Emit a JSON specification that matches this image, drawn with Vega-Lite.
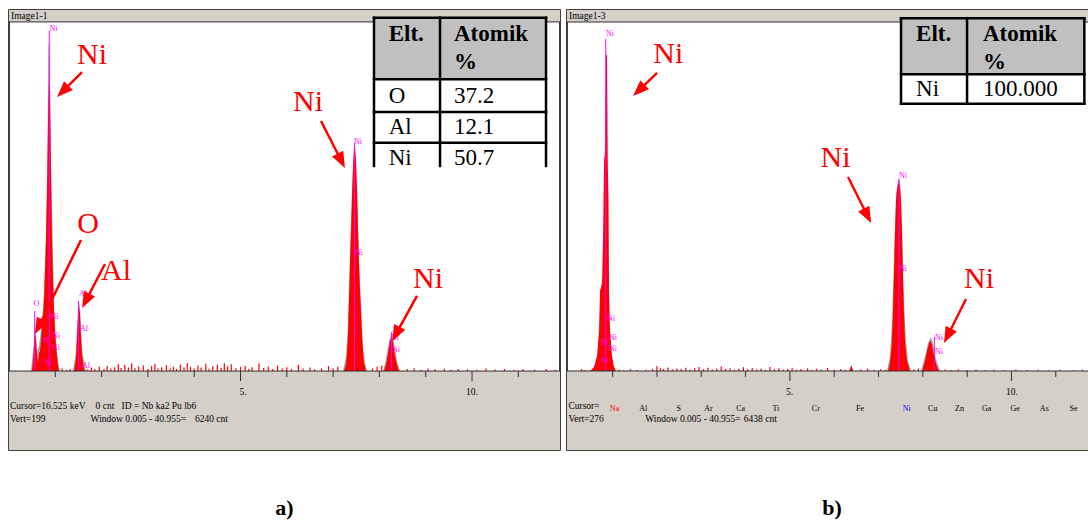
{
"$schema": "https://vega.github.io/schema/vega-lite/v6.json",
"padding": {"left": 7, "top": 9, "right": 0, "bottom": 0},
"background": "white",
"spacing": 3,
"config": {"view": {"stroke": "black", "strokeWidth": 1.5}, "text": {"font": "Liberation Serif"}, "title": {"font": "Liberation Serif"}},
"datasets": {
"a_bg": [{"e":0,"c":-45,"e2":11.9,"c2":0},{"e":0,"c":199,"e2":11.9,"c2":205.8}],
"a_dark": [{"e":0,"c":0,"e2":11.9,"c2":0},{"e":0,"c":199,"e2":11.9,"c2":199},
 {"e":1,"c":0,"e2":1,"c2":-3.4},{"e":2,"c":0,"e2":2,"c2":-3.4},{"e":3,"c":0,"e2":3,"c2":-3.4},{"e":4,"c":0,"e2":4,"c2":-3.4},{"e":5,"c":0,"e2":5,"c2":-5.7},{"e":6,"c":0,"e2":6,"c2":-3.4},{"e":7,"c":0,"e2":7,"c2":-3.4},{"e":8,"c":0,"e2":8,"c2":-3.4},{"e":9,"c":0,"e2":9,"c2":-3.4},{"e":10,"c":0,"e2":10,"c2":-5.7},{"e":11,"c":0,"e2":11,"c2":-3.4}],
"a_spec": [
 {"s":"spec","e":0,"c":0},{"s":"spec","e":0.497,"c":0},{"s":"spec","e":0.518,"c":5.7},{"s":"spec","e":0.540,"c":14.3},{"s":"spec","e":0.562,"c":21.1},{"s":"spec","e":0.583,"c":18.2},{"s":"spec","e":0.605,"c":8.6},{"s":"spec","e":0.626,"c":4.6},{"s":"spec","e":0.648,"c":10.3},{"s":"spec","e":0.670,"c":11.4},{"s":"spec","e":0.691,"c":17.1},{"s":"spec","e":0.713,"c":25.6},{"s":"spec","e":0.734,"c":31.4},{"s":"spec","e":0.756,"c":39.9},{"s":"spec","e":0.778,"c":57.0},{"s":"spec","e":0.799,"c":74.1},{"s":"spec","e":0.821,"c":102.6},{"s":"spec","e":0.842,"c":142.5},{"s":"spec","e":0.864,"c":166.4},{"s":"spec","e":0.886,"c":156.8},{"s":"spec","e":0.907,"c":114.0},{"s":"spec","e":0.929,"c":74.1},{"s":"spec","e":0.950,"c":51.3},{"s":"spec","e":0.972,"c":34.2},{"s":"spec","e":0.994,"c":22.8},{"s":"spec","e":1.015,"c":14.3},{"s":"spec","e":1.037,"c":8.6},{"s":"spec","e":1.058,"c":2.9},{"s":"spec","e":1.080,"c":0},
 {"s":"spec","e":1.404,"c":0},{"s":"spec","e":1.447,"c":6.8},{"s":"spec","e":1.469,"c":20.0},{"s":"spec","e":1.490,"c":31.4},{"s":"spec","e":1.512,"c":37.1},{"s":"spec","e":1.533,"c":33.1},{"s":"spec","e":1.555,"c":20.0},{"s":"spec","e":1.577,"c":8.6},{"s":"spec","e":1.620,"c":1.1},{"s":"spec","e":1.641,"c":0},
 {"s":"spec","e":7.235,"c":0},{"s":"spec","e":7.279,"c":4.0},{"s":"spec","e":7.300,"c":10.3},{"s":"spec","e":7.322,"c":20.0},{"s":"spec","e":7.343,"c":39.9},{"s":"spec","e":7.365,"c":61.6},{"s":"spec","e":7.387,"c":79.8},{"s":"spec","e":7.408,"c":99.8},{"s":"spec","e":7.430,"c":116.9},{"s":"spec","e":7.451,"c":126.5},{"s":"spec","e":7.473,"c":128.3},{"s":"spec","e":7.495,"c":119.7},{"s":"spec","e":7.516,"c":102.6},{"s":"spec","e":7.538,"c":79.8},{"s":"spec","e":7.559,"c":59.9},{"s":"spec","e":7.581,"c":45.6},{"s":"spec","e":7.603,"c":34.2},{"s":"spec","e":7.624,"c":20.0},{"s":"spec","e":7.646,"c":11.4},{"s":"spec","e":7.667,"c":4.6},{"s":"spec","e":7.711,"c":0},
 {"s":"spec","e":8.099,"c":0},{"s":"spec","e":8.143,"c":3.4},{"s":"spec","e":8.186,"c":10.3},{"s":"spec","e":8.229,"c":17.1},{"s":"spec","e":8.261,"c":19.4},{"s":"spec","e":8.294,"c":16.0},{"s":"spec","e":8.337,"c":8.6},{"s":"spec","e":8.380,"c":3.4},{"s":"spec","e":8.423,"c":0},{"s":"spec","e":11.9,"c":0},
 {"s":"env","e":0,"c":0},{"s":"env","e":0.475,"c":0},{"s":"env","e":0.540,"c":17.1},{"s":"env","e":0.562,"c":25.1},{"s":"env","e":0.605,"c":11.4},{"s":"env","e":0.648,"c":14.3},{"s":"env","e":0.713,"c":28.5},{"s":"env","e":0.756,"c":45.6},{"s":"env","e":0.799,"c":79.8},{"s":"env","e":0.832,"c":125.4},{"s":"env","e":0.853,"c":188.1},{"s":"env","e":0.886,"c":176.7},{"s":"env","e":0.907,"c":119.7},{"s":"env","e":0.940,"c":79.8},{"s":"env","e":0.972,"c":39.9},{"s":"env","e":1.015,"c":17.1},{"s":"env","e":1.058,"c":5.7},{"s":"env","e":1.102,"c":0},
 {"s":"env","e":1.382,"c":0},{"s":"env","e":1.447,"c":11.4},{"s":"env","e":1.490,"c":34.2},{"s":"env","e":1.512,"c":39.9},{"s":"env","e":1.533,"c":35.3},{"s":"env","e":1.577,"c":12.5},{"s":"env","e":1.663,"c":0},
 {"s":"env","e":7.214,"c":0},{"s":"env","e":7.279,"c":8.6},{"s":"env","e":7.322,"c":28.5},{"s":"env","e":7.365,"c":68.4},{"s":"env","e":7.408,"c":102.6},{"s":"env","e":7.462,"c":132.2},{"s":"env","e":7.516,"c":105.5},{"s":"env","e":7.559,"c":65.6},{"s":"env","e":7.603,"c":37.1},{"s":"env","e":7.646,"c":14.3},{"s":"env","e":7.689,"c":4.6},{"s":"env","e":7.732,"c":0},
 {"s":"env","e":8.078,"c":0},{"s":"env","e":8.143,"c":6.8},{"s":"env","e":8.207,"c":17.1},{"s":"env","e":8.261,"c":21.1},{"s":"env","e":8.315,"c":16.0},{"s":"env","e":8.380,"c":5.7},{"s":"env","e":8.445,"c":0},{"s":"env","e":11.9,"c":0}],
"a_noise": [{"e":1.15,"c":1.5},{"e":1.25,"c":0.8},{"e":1.32,"c":1.2},{"e":1.7,"c":1.0},{"e":1.78,"c":2.0},{"e":1.85,"c":1.1},{"e":1.95,"c":2.5},{"e":2.05,"c":1.2},{"e":2.12,"c":3.0},{"e":2.2,"c":1.5},{"e":2.28,"c":2.2},{"e":2.36,"c":4.0},{"e":2.42,"c":1.8},{"e":2.5,"c":3.5},{"e":2.58,"c":2.0},{"e":2.65,"c":4.5},{"e":2.72,"c":1.6},{"e":2.8,"c":2.6},{"e":2.9,"c":3.1},{"e":3.0,"c":1.2},{"e":3.08,"c":2.8},{"e":3.15,"c":4.0},{"e":3.22,"c":1.5},{"e":3.3,"c":2.2},{"e":3.4,"c":3.4},{"e":3.48,"c":1.4},{"e":3.55,"c":2.5},{"e":3.62,"c":1.1},{"e":3.7,"c":3.8},{"e":3.78,"c":2.0},{"e":3.85,"c":4.6},{"e":3.92,"c":2.4},{"e":4.0,"c":1.5},{"e":4.08,"c":3.2},{"e":4.15,"c":2.0},{"e":4.25,"c":4.2},{"e":4.32,"c":1.3},{"e":4.4,"c":2.8},{"e":4.5,"c":3.6},{"e":4.58,"c":1.8},{"e":4.65,"c":4.4},{"e":4.72,"c":2.6},{"e":4.8,"c":3.9},{"e":4.9,"c":1.6},{"e":5.0,"c":2.4},{"e":5.1,"c":3.0},{"e":5.18,"c":1.2},{"e":5.25,"c":2.2},{"e":5.4,"c":4.5},{"e":5.5,"c":1.8},{"e":5.6,"c":2.6},{"e":5.7,"c":1.2},{"e":5.8,"c":3.2},{"e":5.9,"c":1.5},{"e":6.0,"c":2.2},{"e":6.1,"c":1.1},{"e":6.25,"c":3.6},{"e":6.35,"c":1.5},{"e":6.5,"c":2.0},{"e":6.6,"c":1.0},{"e":6.75,"c":1.5},{"e":6.9,"c":2.8},{"e":7.0,"c":1.6},{"e":7.1,"c":2.4},{"e":7.85,"c":1.5},{"e":7.95,"c":2.5},{"e":8.05,"c":3.2},{"e":8.6,"c":1.2},{"e":8.75,"c":1.6},{"e":8.9,"c":0.8},{"e":9.05,"c":1.5},{"e":9.2,"c":1.0},{"e":9.4,"c":1.4},{"e":9.55,"c":0.8},{"e":9.7,"c":1.2},{"e":9.9,"c":1.0},{"e":10.1,"c":0.8},{"e":10.3,"c":1.5},{"e":10.5,"c":0.9},{"e":10.7,"c":1.2},{"e":10.9,"c":0.7},{"e":11.1,"c":1.1},{"e":11.35,"c":0.8},{"e":11.6,"c":1.2},{"e":11.8,"c":0.7}],
"a_mark": [{"e":0.869,"c":193.9},{"e":0.555,"c":34.2},{"e":1.50,"c":39.9},{"e":7.46,"c":130},{"e":8.26,"c":22.2}],
"a_mlab": [{"t":"Ni","e":0.875,"c":195.0},{"t":"O","e":0.529,"c":38.2},{"t":"Ni","e":0.896,"c":30.8},{"t":"Ni","e":0.929,"c":20.0},{"t":"Ni","e":0.929,"c":13.1},{"t":"Ni","e":0.734,"c":17.1},{"t":"Ni","e":0.756,"c":4.6},{"t":"Al","e":1.512,"c":43.9},{"t":"Al","e":1.533,"c":23.9},{"t":"Al","e":1.577,"c":2.9},{"t":"Ni","e":7.451,"c":130.5},{"t":"Ni","e":7.473,"c":67.3},{"t":"Ni","e":8.251,"c":18.8},{"t":"Ni","e":8.272,"c":12.0}],
"a_status": [{"t":"Image1-1","e":0.043,"c":202.4},{"t":"5.","e":4.978,"c":-12.0},{"t":"10.","e":9.87,"c":-12.0},{"t":"Cursor=16.525 keV","e":0.022,"c":-20.0},{"t":"0 cnt","e":1.870,"c":-20.0},{"t":"ID = Nb ka2  Pu lb6","e":2.432,"c":-20.0},{"t":"Vert=199","e":0.022,"c":-27.4},{"t":"Window 0.005 - 40.955=","e":1.762,"c":-27.4},{"t":"6240 cnt","e":4.017,"c":-27.4}],
"a_tfill": [{"f":"h","e":7.883,"c":166.3,"e2":11.598,"c2":201.4},{"f":"b","e":7.883,"c":116.9,"e2":11.598,"c2":166.3}],
"a_tline": [{"e":7.883,"c":201.4,"e2":7.883,"c2":116.9},{"e":9.309,"c":201.4,"e2":9.309,"c2":116.9},{"e":11.598,"c":201.4,"e2":11.598,"c2":116.9},{"e":7.883,"c":201.4,"e2":11.598,"c2":201.4},{"e":7.883,"c":166.3,"e2":11.598,"c2":166.3},{"e":7.883,"c":147.6,"e2":11.598,"c2":147.6},{"e":7.883,"c":130.1,"e2":11.598,"c2":130.1}],
"a_thead": [{"t":"Elt.","e":8.201,"c":188.1},{"t":"Atomik","e":9.611,"c":188.1},{"t":"%","e":9.611,"c":172.1}],
"a_tbody": [{"t":"O","e":8.201,"c":152.8},{"t":"37.2","e":9.611,"c":152.8},{"t":"Al","e":8.201,"c":135.1},{"t":"12.1","e":9.611,"c":135.1},{"t":"Ni","e":8.201,"c":117.4},{"t":"50.7","e":9.611,"c":117.4}],
"a_red": [{"t":"Ni","e":1.793,"c":175.0},{"t":"O","e":1.706,"c":78.7},{"t":"Al","e":2.311,"c":51.9},{"t":"Ni","e":6.458,"c":148.2},{"t":"Ni","e":9.050,"c":47.3}],
"a_arrow": [{"id":"1","e":1.577,"c":170.4,"e2":1.175,"c2":159.8},{"id":"2","e":1.555,"c":74.7,"e2":0.648,"c2":25.7},{"id":"3","e":2.073,"c":61.0,"e2":1.667,"c2":40.5},{"id":"4","e":6.739,"c":142.5,"e2":7.168,"c2":120.3},{"id":"5","e":8.812,"c":42.8,"e2":8.367,"c2":21.6}],
"b_bg": [{"e":-0.03,"c":-62.5,"e2":11.75,"c2":0},{"e":-0.03,"c":276,"e2":11.75,"c2":285.5}],
"b_dark": [{"e":-0.03,"c":0,"e2":11.75,"c2":0},{"e":-0.03,"c":276,"e2":11.75,"c2":276},
 {"e":1,"c":0,"e2":1,"c2":-4.7},{"e":2,"c":0,"e2":2,"c2":-4.7},{"e":3,"c":0,"e2":3,"c2":-4.7},{"e":4,"c":0,"e2":4,"c2":-4.7},{"e":5,"c":0,"e2":5,"c2":-7.9},{"e":6,"c":0,"e2":6,"c2":-4.7},{"e":7,"c":0,"e2":7,"c2":-4.7},{"e":8,"c":0,"e2":8,"c2":-4.7},{"e":9,"c":0,"e2":9,"c2":-4.7},{"e":10,"c":0,"e2":10,"c2":-7.9},{"e":11,"c":0,"e2":11,"c2":-4.7}],
"b_spec": [
 {"s":"spec","e":-0.03,"c":0},{"s":"spec","e":0.490,"c":0},{"s":"spec","e":0.580,"c":3.2},{"s":"spec","e":0.648,"c":11.9},{"s":"spec","e":0.693,"c":31.6},{"s":"spec","e":0.715,"c":63.3},{"s":"spec","e":0.761,"c":69.6},{"s":"spec","e":0.783,"c":102.8},{"s":"spec","e":0.806,"c":166.1},{"s":"spec","e":0.828,"c":174.0},{"s":"spec","e":0.851,"c":249.9},{"s":"spec","e":0.873,"c":249.9},{"s":"spec","e":0.889,"c":166.1},{"s":"spec","e":0.907,"c":134.5},{"s":"spec","e":0.919,"c":63.3},{"s":"spec","e":0.941,"c":31.6},{"s":"spec","e":0.986,"c":11.9},{"s":"spec","e":1.031,"c":3.2},{"s":"spec","e":1.077,"c":0},
 {"s":"spec","e":6.339,"c":0},{"s":"spec","e":6.384,"c":4.7},{"s":"spec","e":6.429,"c":0},
 {"s":"spec","e":7.214,"c":0},{"s":"spec","e":7.260,"c":6.3},{"s":"spec","e":7.305,"c":23.7},{"s":"spec","e":7.327,"c":47.5},{"s":"spec","e":7.350,"c":79.1},{"s":"spec","e":7.373,"c":110.7},{"s":"spec","e":7.395,"c":134.5},{"s":"spec","e":7.418,"c":143.9},{"s":"spec","e":7.440,"c":147.9},{"s":"spec","e":7.463,"c":148.7},{"s":"spec","e":7.486,"c":145.5},{"s":"spec","e":7.508,"c":134.5},{"s":"spec","e":7.531,"c":106.8},{"s":"spec","e":7.553,"c":71.2},{"s":"spec","e":7.576,"c":43.5},{"s":"spec","e":7.598,"c":23.7},{"s":"spec","e":7.643,"c":7.9},{"s":"spec","e":7.711,"c":0},
 {"s":"spec","e":7.982,"c":0},{"s":"spec","e":8.050,"c":7.9},{"s":"spec","e":8.095,"c":15.8},{"s":"spec","e":8.140,"c":22.1},{"s":"spec","e":8.174,"c":23.7},{"s":"spec","e":8.208,"c":20.6},{"s":"spec","e":8.253,"c":11.9},{"s":"spec","e":8.321,"c":3.2},{"s":"spec","e":8.366,"c":0},{"s":"spec","e":11.75,"c":0},
 {"s":"env","e":-0.03,"c":0},
 {"s":"env","e":7.191,"c":0},{"s":"env","e":7.260,"c":11.9},{"s":"env","e":7.305,"c":39.5},{"s":"env","e":7.350,"c":91.0},{"s":"env","e":7.395,"c":138.4},{"s":"env","e":7.440,"c":151.8},{"s":"env","e":7.486,"c":150.2},{"s":"env","e":7.531,"c":114.7},{"s":"env","e":7.576,"c":55.4},{"s":"env","e":7.621,"c":23.7},{"s":"env","e":7.666,"c":7.9},{"s":"env","e":7.734,"c":0},
 {"s":"env","e":7.960,"c":0},{"s":"env","e":8.050,"c":11.9},{"s":"env","e":8.118,"c":22.1},{"s":"env","e":8.174,"c":26.9},{"s":"env","e":8.231,"c":22.1},{"s":"env","e":8.298,"c":9.5},{"s":"env","e":8.389,"c":0},{"s":"env","e":11.75,"c":0}],
"b_noise": [{"e":0.3,"c":1.5},{"e":0.38,"c":0.8},{"e":1.15,"c":1.2},{"e":1.25,"c":0.6},{"e":1.4,"c":1.5},{"e":1.55,"c":0.8},{"e":1.75,"c":1.0},{"e":1.9,"c":1.6},{"e":2.0,"c":4.0},{"e":2.08,"c":2.2},{"e":2.15,"c":1.5},{"e":2.25,"c":2.8},{"e":2.35,"c":1.2},{"e":2.45,"c":2.0},{"e":2.55,"c":1.5},{"e":2.65,"c":2.5},{"e":2.75,"c":1.0},{"e":2.85,"c":2.2},{"e":2.95,"c":3.2},{"e":3.05,"c":1.5},{"e":3.15,"c":2.6},{"e":3.25,"c":1.2},{"e":3.35,"c":2.0},{"e":3.45,"c":3.5},{"e":3.55,"c":1.6},{"e":3.65,"c":2.2},{"e":3.75,"c":1.1},{"e":3.85,"c":1.8},{"e":3.95,"c":3.0},{"e":4.05,"c":1.4},{"e":4.15,"c":2.4},{"e":4.25,"c":1.2},{"e":4.35,"c":2.0},{"e":4.45,"c":1.0},{"e":4.55,"c":3.2},{"e":4.65,"c":1.4},{"e":4.75,"c":2.2},{"e":4.85,"c":1.2},{"e":4.95,"c":1.8},{"e":5.05,"c":2.6},{"e":5.15,"c":1.0},{"e":5.25,"c":1.6},{"e":5.4,"c":2.2},{"e":5.5,"c":1.0},{"e":5.6,"c":1.8},{"e":5.7,"c":1.2},{"e":5.85,"c":2.4},{"e":6.0,"c":1.0},{"e":6.15,"c":1.6},{"e":6.25,"c":1.0},{"e":6.6,"c":1.2},{"e":6.75,"c":1.8},{"e":6.9,"c":1.0},{"e":7.05,"c":1.4},{"e":7.15,"c":1.0},{"e":7.8,"c":1.2},{"e":7.9,"c":2.0},{"e":8.5,"c":1.2},{"e":8.65,"c":0.8},{"e":8.8,"c":1.4},{"e":9.0,"c":0.8},{"e":9.2,"c":1.2},{"e":9.4,"c":0.7},{"e":9.6,"c":1.0},{"e":9.85,"c":0.8},{"e":10.1,"c":1.2},{"e":10.35,"c":0.7},{"e":10.6,"c":1.0},{"e":10.85,"c":0.6},{"e":11.1,"c":1.0},{"e":11.4,"c":0.7},{"e":11.6,"c":0.9}],
"b_mark": [{"e":0.844,"c":262.6},{"e":7.463,"c":151.9},{"e":8.26,"c":26.9}],
"b_mlab": [{"t":"Ni","e":0.851,"c":266.5},{"t":"Ni","e":0.874,"c":41.1},{"t":"Ni","e":0.918,"c":26.1},{"t":"Ni","e":0.918,"c":17.4},{"t":"Ni","e":0.738,"c":22.1},{"t":"Ni","e":0.738,"c":7.9},{"t":"Ni","e":7.463,"c":154.2},{"t":"Ni","e":7.463,"c":80.7},{"t":"Ni","e":8.275,"c":26.1},{"t":"Ni","e":8.275,"c":15.0}],
"b_kticks": [{"e":0.657},{"e":0.846},{"e":1.052},{"e":1.25},{"e":1.44},{"e":1.71},{"e":1.96},{"e":2.30},{"e":2.64},{"e":2.93},{"e":3.29},{"e":3.67},{"e":4.07},{"e":4.51},{"e":4.94},{"e":5.41},{"e":5.88},{"e":6.38},{"e":6.92},{"e":7.46},{"e":8.04},{"e":8.61},{"e":9.23},{"e":9.86},{"e":10.55},{"e":11.22}],
"b_elem": [{"t":"Na","e":0.937,"c":-30.1},{"t":"Al","e":1.598,"c":-30.1},{"t":"S","e":2.442,"c":-30.1},{"t":"Ar","e":3.065,"c":-30.1},{"t":"Ca","e":3.787,"c":-30.1},{"t":"Ti","e":4.606,"c":-30.1},{"t":"Cr","e":5.495,"c":-30.1},{"t":"Fe","e":6.493,"c":-30.1},{"t":"Ni","e":7.549,"c":-30.1},{"t":"Cu","e":8.118,"c":-30.1},{"t":"Zn","e":8.727,"c":-30.1},{"t":"Ga","e":9.334,"c":-30.1},{"t":"Ge","e":9.980,"c":-30.1},{"t":"As","e":10.641,"c":-30.1},{"t":"Se","e":11.309,"c":-30.1}],
"b_status": [{"t":"Image1-3","e":0.016,"c":280.8},{"t":"5.","e":4.913,"c":-16.6},{"t":"10.","e":9.878,"c":-16.6},{"t":"Cursor=","e":0.002,"c":-27.7},{"t":"Vert=276","e":0.002,"c":-38.0},{"t":"Window 0.005 - 40.955=","e":1.735,"c":-38.0},{"t":"6438 cnt","e":3.961,"c":-38.0}],
"b_tfill": [{"f":"h","e":7.508,"c":234.7,"e2":11.645,"c2":279.0},{"f":"b","e":7.508,"c":211.4,"e2":11.645,"c2":234.7}],
"b_tline": [{"e":7.508,"c":279.0,"e2":7.508,"c2":211.4},{"e":8.998,"c":279.0,"e2":8.998,"c2":211.4},{"e":11.645,"c":279.0,"e2":11.645,"c2":211.4},{"e":7.508,"c":279.0,"e2":11.645,"c2":279.0},{"e":7.508,"c":234.7,"e2":11.645,"c2":234.7},{"e":7.508,"c":211.4,"e2":11.645,"c2":211.4}],
"b_thead": [{"t":"Elt.","e":7.847,"c":261.0},{"t":"Atomik","e":9.358,"c":261.0},{"t":"%","e":9.358,"c":238.9}],
"b_tbody": [{"t":"Ni","e":7.847,"c":217.5},{"t":"100.000","e":9.358,"c":217.5}],
"b_red": [{"t":"Ni","e":2.257,"c":243.6},{"t":"Ni","e":6.032,"c":161.3},{"t":"Ni","e":9.269,"c":65.6}],
"b_arrow": [{"id":"1","e":2.002,"c":235.7,"e2":1.607,"c2":222.4},{"id":"2","e":6.312,"c":153.4,"e2":6.741,"c2":123.4},{"id":"3","e":8.975,"c":56.9,"e2":8.569,"c2":28.5}]
},
"hconcat": [
{
 "width": 551, "height": 440,
 "title": {"text": "a)", "orient": "bottom", "font": "Liberation Serif", "fontSize": 22, "fontWeight": "bold", "baseline": "alphabetic", "offset": 65, "anchor": "middle", "color": "black"},
 "encoding": {
  "x": {"field": "e", "type": "quantitative", "scale": {"domain": [0, 11.9], "nice": false, "zero": false}, "axis": null},
  "y": {"field": "c", "type": "quantitative", "scale": {"domain": [-45, 205.8], "nice": false, "zero": false}, "axis": null}
 },
 "layer": [
  {"data": {"name": "a_bg"}, "mark": {"type": "rect", "fill": "#d4d0c8"}, "encoding": {"x2": {"field": "e2"}, "y2": {"field": "c2"}}},
  {"data": {"name": "a_spec"}, "transform": [{"filter": "datum.s === 'env'"}], "mark": {"type": "area", "color": "#a6a6a6", "opacity": 1}, "encoding": {"y": {"field": "c", "type": "quantitative", "stack": null, "scale": {"domain": [-45, 205.8], "nice": false, "zero": false}, "axis": null}}},
  {"data": {"name": "a_spec"}, "transform": [{"filter": "datum.s === 'spec'"}], "mark": {"type": "area", "color": "#ff0000", "opacity": 1}, "encoding": {"y": {"field": "c", "type": "quantitative", "stack": null, "scale": {"domain": [-45, 205.8], "nice": false, "zero": false}, "axis": null}}},
  {"data": {"name": "a_noise"}, "mark": {"type": "rule", "color": "#ff0000", "strokeWidth": 1.2}, "encoding": {"y2": {"datum": 0}}},
  {"data": {"name": "a_mark"}, "mark": {"type": "rule", "color": "#ff00ff", "strokeWidth": 1}, "encoding": {"y2": {"datum": 0}}},
  {"data": {"name": "a_mlab"}, "mark": {"type": "text", "font": "Liberation Serif", "align": "left", "baseline": "middle", "fontSize": 8, "color": "#ff00ff"}, "encoding": {"text": {"field": "t"}}},
  {"data": {"name": "a_dark"}, "mark": {"type": "rule", "color": "#303030", "strokeWidth": 1}, "encoding": {"x2": {"field": "e2"}, "y2": {"field": "c2"}}},
  {"data": {"name": "a_status"}, "mark": {"type": "text", "font": "Liberation Serif", "align": "left", "baseline": "middle", "fontSize": 9.5, "color": "black"}, "encoding": {"text": {"field": "t"}}},
  {"data": {"name": "a_tfill"}, "transform": [{"filter": "datum.f === 'h'"}], "mark": {"type": "rect", "fill": "#c0c0c0"}, "encoding": {"x2": {"field": "e2"}, "y2": {"field": "c2"}}},
  {"data": {"name": "a_tfill"}, "transform": [{"filter": "datum.f === 'b'"}], "mark": {"type": "rect", "fill": "#ffffff"}, "encoding": {"x2": {"field": "e2"}, "y2": {"field": "c2"}}},
  {"data": {"name": "a_tline"}, "mark": {"type": "rule", "color": "black", "strokeWidth": 2.5, "strokeCap": "square"}, "encoding": {"x2": {"field": "e2"}, "y2": {"field": "c2"}}},
  {"data": {"name": "a_thead"}, "mark": {"type": "text", "font": "Liberation Serif", "align": "left", "baseline": "alphabetic", "fontSize": 23, "fontWeight": "bold", "color": "black"}, "encoding": {"text": {"field": "t"}}},
  {"data": {"name": "a_tbody"}, "mark": {"type": "text", "font": "Liberation Serif", "align": "left", "baseline": "alphabetic", "fontSize": 23, "color": "black"}, "encoding": {"text": {"field": "t"}}},
  {"data": {"name": "a_red"}, "mark": {"type": "text", "font": "Liberation Serif", "align": "center", "baseline": "alphabetic", "fontSize": 30, "color": "#ff0000"}, "encoding": {"text": {"field": "t"}}},
  {"data": {"name": "a_arrow"}, "mark": {"type": "rule", "color": "#ff0000", "strokeWidth": 2.5}, "encoding": {"x2": {"field": "e2"}, "y2": {"field": "c2"}}},
  {"data": {"name": "a_arrow"}, "transform": [{"filter": "datum.id === '1'"}], "mark": {"type": "point", "shape": "M0,-1L0.7,0.8L-0.7,0.8Z", "filled": true, "size": 320, "angle": 225, "color": "#ff0000", "opacity": 1, "strokeWidth": 0},
   "encoding": {"x": {"field": "e2", "type": "quantitative", "scale": {"domain": [0, 11.9], "nice": false, "zero": false}, "axis": null}, "y": {"field": "c2", "type": "quantitative", "scale": {"domain": [-45, 205.8], "nice": false, "zero": false}, "axis": null}}},
  {"data": {"name": "a_arrow"}, "transform": [{"filter": "datum.id === '4'"}], "mark": {"type": "point", "shape": "M0,-1L0.7,0.8L-0.7,0.8Z", "filled": true, "size": 320, "angle": 153, "color": "#ff0000", "opacity": 1, "strokeWidth": 0},
   "encoding": {"x": {"field": "e2", "type": "quantitative", "scale": {"domain": [0, 11.9], "nice": false, "zero": false}, "axis": null}, "y": {"field": "c2", "type": "quantitative", "scale": {"domain": [-45, 205.8], "nice": false, "zero": false}, "axis": null}}},
  {"data": {"name": "a_arrow"}, "transform": [{"filter": "datum.id === '2' || datum.id === '3' || datum.id === '5'"}], "mark": {"type": "point", "shape": "M0,-1L0.7,0.8L-0.7,0.8Z", "filled": true, "size": 320, "angle": 207, "color": "#ff0000", "opacity": 1, "strokeWidth": 0},
   "encoding": {"x": {"field": "e2", "type": "quantitative", "scale": {"domain": [0, 11.9], "nice": false, "zero": false}, "axis": null}, "y": {"field": "c2", "type": "quantitative", "scale": {"domain": [-45, 205.8], "nice": false, "zero": false}, "axis": null}}}
 ]
},
{
 "width": 522, "height": 440,
 "title": {"text": "b)", "orient": "bottom", "font": "Liberation Serif", "fontSize": 22, "fontWeight": "bold", "baseline": "alphabetic", "offset": 65, "anchor": "middle", "dx": 4, "color": "black"},
 "encoding": {
  "x": {"field": "e", "type": "quantitative", "scale": {"domain": [-0.03, 11.75], "nice": false, "zero": false}, "axis": null},
  "y": {"field": "c", "type": "quantitative", "scale": {"domain": [-62.5, 285.5], "nice": false, "zero": false}, "axis": null}
 },
 "layer": [
  {"data": {"name": "b_bg"}, "mark": {"type": "rect", "fill": "#d4d0c8"}, "encoding": {"x2": {"field": "e2"}, "y2": {"field": "c2"}}},
  {"data": {"name": "b_spec"}, "transform": [{"filter": "datum.s === 'env'"}], "mark": {"type": "area", "color": "#a6a6a6", "opacity": 1}, "encoding": {"y": {"field": "c", "type": "quantitative", "stack": null, "scale": {"domain": [-62.5, 285.5], "nice": false, "zero": false}, "axis": null}}},
  {"data": {"name": "b_spec"}, "transform": [{"filter": "datum.s === 'spec'"}], "mark": {"type": "area", "color": "#ff0000", "opacity": 1}, "encoding": {"y": {"field": "c", "type": "quantitative", "stack": null, "scale": {"domain": [-62.5, 285.5], "nice": false, "zero": false}, "axis": null}}},
  {"data": {"name": "b_noise"}, "mark": {"type": "rule", "color": "#ff0000", "strokeWidth": 1.2}, "encoding": {"y2": {"datum": 0}}},
  {"data": {"name": "b_mark"}, "mark": {"type": "rule", "color": "#ff00ff", "strokeWidth": 1}, "encoding": {"y2": {"datum": 0}}},
  {"data": {"name": "b_mlab"}, "mark": {"type": "text", "font": "Liberation Serif", "align": "left", "baseline": "middle", "fontSize": 8, "color": "#ff00ff"}, "encoding": {"text": {"field": "t"}}},
  {"data": {"name": "b_dark"}, "mark": {"type": "rule", "color": "#303030", "strokeWidth": 1}, "encoding": {"x2": {"field": "e2"}, "y2": {"field": "c2"}}},
  {"data": {"name": "b_kticks"}, "mark": {"type": "rule", "color": "#ff00ff", "strokeWidth": 1}, "encoding": {"y": {"datum": -22.1, "type": "quantitative", "scale": {"domain": [-62.5, 285.5], "nice": false, "zero": false}, "axis": null}, "y2": {"datum": -26.1}}},
  {"data": {"name": "b_elem"}, "transform": [{"filter": "datum.t !== 'Na' && datum.t !== 'Ni'"}], "mark": {"type": "text", "font": "Liberation Serif", "align": "left", "baseline": "middle", "fontSize": 8, "color": "black"}, "encoding": {"text": {"field": "t"}}},
  {"data": {"name": "b_elem"}, "transform": [{"filter": "datum.t === 'Na'"}], "mark": {"type": "text", "font": "Liberation Serif", "align": "left", "baseline": "middle", "fontSize": 8, "color": "#ff0000"}, "encoding": {"text": {"field": "t"}}},
  {"data": {"name": "b_elem"}, "transform": [{"filter": "datum.t === 'Ni'"}], "mark": {"type": "text", "font": "Liberation Serif", "align": "left", "baseline": "middle", "fontSize": 8, "color": "#0000ff"}, "encoding": {"text": {"field": "t"}}},
  {"data": {"name": "b_status"}, "mark": {"type": "text", "font": "Liberation Serif", "align": "left", "baseline": "middle", "fontSize": 9.5, "color": "black"}, "encoding": {"text": {"field": "t"}}},
  {"data": {"name": "b_tfill"}, "transform": [{"filter": "datum.f === 'h'"}], "mark": {"type": "rect", "fill": "#c0c0c0"}, "encoding": {"x2": {"field": "e2"}, "y2": {"field": "c2"}}},
  {"data": {"name": "b_tfill"}, "transform": [{"filter": "datum.f === 'b'"}], "mark": {"type": "rect", "fill": "#ffffff"}, "encoding": {"x2": {"field": "e2"}, "y2": {"field": "c2"}}},
  {"data": {"name": "b_tline"}, "mark": {"type": "rule", "color": "black", "strokeWidth": 2.5, "strokeCap": "square"}, "encoding": {"x2": {"field": "e2"}, "y2": {"field": "c2"}}},
  {"data": {"name": "b_thead"}, "mark": {"type": "text", "font": "Liberation Serif", "align": "left", "baseline": "alphabetic", "fontSize": 23, "fontWeight": "bold", "color": "black"}, "encoding": {"text": {"field": "t"}}},
  {"data": {"name": "b_tbody"}, "mark": {"type": "text", "font": "Liberation Serif", "align": "left", "baseline": "alphabetic", "fontSize": 23, "color": "black"}, "encoding": {"text": {"field": "t"}}},
  {"data": {"name": "b_red"}, "mark": {"type": "text", "font": "Liberation Serif", "align": "center", "baseline": "alphabetic", "fontSize": 30, "color": "#ff0000"}, "encoding": {"text": {"field": "t"}}},
  {"data": {"name": "b_arrow"}, "mark": {"type": "rule", "color": "#ff0000", "strokeWidth": 2.5}, "encoding": {"x2": {"field": "e2"}, "y2": {"field": "c2"}}},
  {"data": {"name": "b_arrow"}, "transform": [{"filter": "datum.id === '1'"}], "mark": {"type": "point", "shape": "M0,-1L0.7,0.8L-0.7,0.8Z", "filled": true, "size": 320, "angle": 226, "color": "#ff0000", "opacity": 1, "strokeWidth": 0},
   "encoding": {"x": {"field": "e2", "type": "quantitative", "scale": {"domain": [-0.03, 11.75], "nice": false, "zero": false}, "axis": null}, "y": {"field": "c2", "type": "quantitative", "scale": {"domain": [-62.5, 285.5], "nice": false, "zero": false}, "axis": null}}},
  {"data": {"name": "b_arrow"}, "transform": [{"filter": "datum.id === '2'"}], "mark": {"type": "point", "shape": "M0,-1L0.7,0.8L-0.7,0.8Z", "filled": true, "size": 320, "angle": 153, "color": "#ff0000", "opacity": 1, "strokeWidth": 0},
   "encoding": {"x": {"field": "e2", "type": "quantitative", "scale": {"domain": [-0.03, 11.75], "nice": false, "zero": false}, "axis": null}, "y": {"field": "c2", "type": "quantitative", "scale": {"domain": [-62.5, 285.5], "nice": false, "zero": false}, "axis": null}}},
  {"data": {"name": "b_arrow"}, "transform": [{"filter": "datum.id === '3'"}], "mark": {"type": "point", "shape": "M0,-1L0.7,0.8L-0.7,0.8Z", "filled": true, "size": 320, "angle": 207, "color": "#ff0000", "opacity": 1, "strokeWidth": 0},
   "encoding": {"x": {"field": "e2", "type": "quantitative", "scale": {"domain": [-0.03, 11.75], "nice": false, "zero": false}, "axis": null}, "y": {"field": "c2", "type": "quantitative", "scale": {"domain": [-62.5, 285.5], "nice": false, "zero": false}, "axis": null}}}
 ]
}
]
}
